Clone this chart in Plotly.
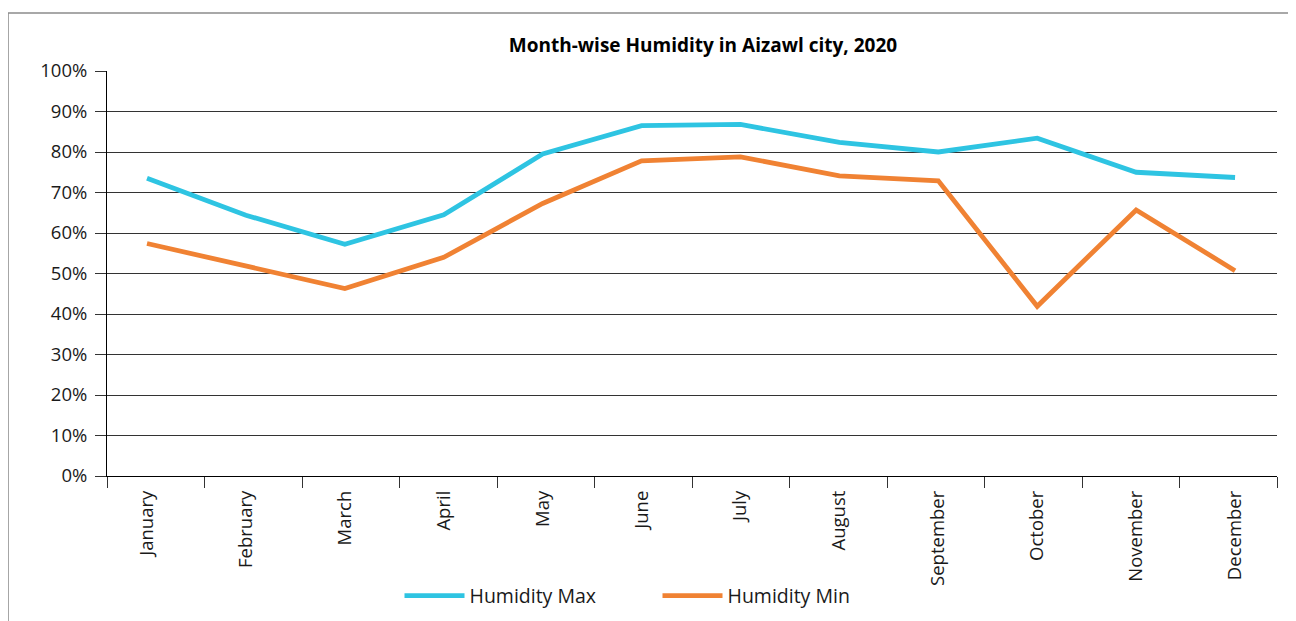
import plotly.graph_objects as go

months = ["January", "February", "March", "April", "May", "June",
          "July", "August", "September", "October", "November", "December"]
humidity_max = [73.5, 64.4, 57.2, 64.5, 79.5, 86.5, 86.8, 82.4, 80.0, 83.4, 75.0, 73.7]
humidity_min = [57.4, 51.7, 46.3, 54.0, 67.3, 77.8, 78.8, 74.1, 72.9, 41.9, 65.7, 50.7]

FONT = "Open Sans, sans-serif"

fig = go.Figure()
# lines and labels sit on a second category axis whose spacing is a bit wider than
# the tick boundaries of the main axis, as in the source chart
fig.add_trace(go.Scatter(x=months, y=[v / 100 for v in humidity_max], name="Humidity Max",
                         mode="lines", xaxis="x2", line=dict(color="#2EC4E2", width=4.8)))
fig.add_trace(go.Scatter(x=months, y=[v / 100 for v in humidity_min], name="Humidity Min",
                         mode="lines", xaxis="x2", line=dict(color="#F08233", width=4.8)))
# invisible helper to give the boundary-tick axis its categories
fig.add_trace(go.Scatter(x=months, y=[None] * 12, showlegend=False, hoverinfo="skip"))

# the page body adds an 8px offset, so margins are shifted to compensate
fig.update_layout(
    width=1296, height=621,
    margin=dict(l=99, r=27, t=63, b=153, autoexpand=False),
    paper_bgcolor="white", plot_bgcolor="white",
    font=dict(family=FONT, size=17, color="#1a1a1a"),
    title=dict(text="<b>Month-wise Humidity in Aizawl city, 2020</b>",
               x=0.5094, xref="paper", xanchor="center", y=0.94, yanchor="middle",
               font=dict(size=19, color="black")),
    showlegend=True,
    legend=dict(orientation="h", x=0.25, xanchor="left", y=-0.296, yanchor="middle",
                font=dict(size=19.5), itemwidth=60, entrywidth=183, entrywidthmode="pixels",
                tracegroupgap=0),
    xaxis=dict(type="category", showgrid=False, showline=True, linecolor="black", linewidth=1,
               ticks="outside", tickson="boundaries", ticklen=11, tickcolor="#333",
               showticklabels=False, range=[-0.5, 11.5], automargin=False),
    xaxis2=dict(type="category", overlaying="x", side="bottom", showgrid=False,
                showline=False, ticks="", tickangle=-90, tickfont=dict(size=18.5),
                ticklabelstandoff=10, range=[-0.4045, 11.424], automargin=False),
    yaxis=dict(range=[0, 1.0], tickvals=[i / 10 for i in range(11)], tickformat=".0%",
               showgrid=True, gridcolor="#333", gridwidth=1, zeroline=False,
               showline=True, linecolor="black", linewidth=1, ticklabelstandoff=4,
               ticks="outside", ticklen=11, tickcolor="#333", tickfont=dict(size=18.5),
               automargin=False),
)

# outer frame of the figure box
fig.add_shape(type="rect", xref="paper", yref="paper",
              x0=-0.0846, x1=1.2, y0=-0.6, y1=1.1432,
              line=dict(color="#8c8c8c", width=1.5), layer="below")

fig.write_html("out.html")
